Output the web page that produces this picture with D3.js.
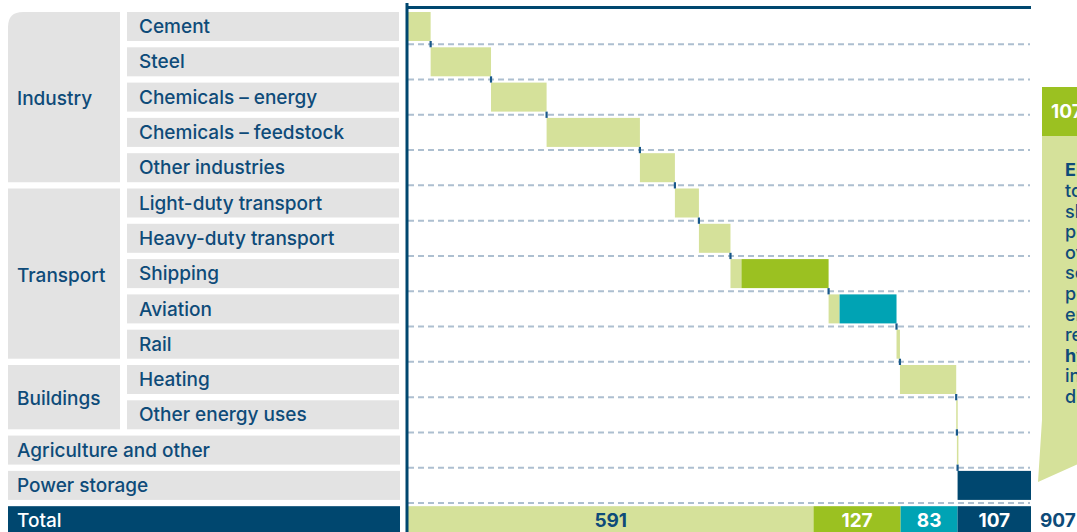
<!DOCTYPE html>
<html><head><meta charset="utf-8">
<script src="https://cdn.jsdelivr.net/npm/d3@7"></script>
<style>
html,body{margin:0;padding:0;background:#fff;overflow:hidden;}
svg{display:block;font-family:Inter, "Noto Sans", sans-serif;}
</style></head>
<body>
<svg id="chart" width="1077" height="532"></svg>
<script>
// ---- data ----
const categories = ["Cement","Steel","Chemicals – energy","Chemicals – feedstock","Other industries",
  "Light-duty transport","Heavy-duty transport","Shipping","Aviation","Rail",
  "Heating","Other energy uses","Agriculture and other","Power storage"];
const groupNames = ["Industry","Transport","Buildings"];
const groupFirst = [0,5,10];
const groupLast  = [4,9,11];
const seriesNames = ["lightGreen","green","teal","navy"];
const lightGreen = [33,88,81,136,51,35,46,16,16,5,82,1,1,0];
const green      = [0,0,0,0,0,0,0,127,0,0,0,0,0,0];
const teal       = [0,0,0,0,0,0,0,0,83,0,0,0,0,0];
const navy       = [0,0,0,0,0,0,0,0,0,0,0,0,0,107];
const totalLabel = "Total";
const grandTotalLabel = 907;
const calloutTitle = "107 EJ";
const calloutLines = ["Electricity","to","shift","power","over","seasons","peaks","energy","requires","hydrogen","in","demand"];
const calloutBold = [0,9];

// ---- styles ----
const colors = {lightGreen:"#d5e19a", green:"#9bc121", teal:"#00a3b4", navy:"#00476f"};
const textNavy = "#0e4b79";
const boxGray = "#e3e3e3";
const fs = 19;

const svg = d3.select("#chart");
const seriesData = {lightGreen, green, teal, navy};
const rows = categories.concat([totalLabel]);

const y = d3.scaleBand().domain(rows).range([12, 535.2]).paddingInner(0.178).paddingOuter(0);
const bw = y.bandwidth();
const step = y.step();
const gap = step - bw;
const totals = seriesNames.map(s => d3.sum(seriesData[s]));
const x = d3.scaleLinear().domain([0, d3.sum(totals)]).range([408, 1031]);

// ---- left label table ----
const labelG = svg.append("g");
const subX0 = 127, grpX0 = 8, grpX1 = 120;
const grouped = new Set();
groupNames.forEach((g,gi) => {
  for (let i = groupFirst[gi]; i <= groupLast[gi]; i++) grouped.add(i);
  const y0 = y(categories[groupFirst[gi]]);
  const y1 = y(categories[groupLast[gi]]) + bw;
  if (gi === 0) {
    const r = 15;
    labelG.append("path")
      .attr("d", `M${grpX0},${y1} L${grpX0},${y0+r} Q${grpX0},${y0} ${grpX0+r},${y0} L${grpX1},${y0} L${grpX1},${y1} Z`)
      .attr("fill", boxGray);
  } else {
    labelG.append("rect").attr("x", grpX0).attr("y", y0).attr("width", grpX1-grpX0).attr("height", y1-y0).attr("fill", boxGray);
  }
  labelG.append("text").attr("x", 17).attr("y", (y0+y1)/2 + 1.5).attr("dy","0.35em")
    .attr("font-size", fs).attr("font-weight", 500).attr("fill", textNavy).text(g);
});
categories.forEach((c,i) => {
  const inGroup = grouped.has(i);
  const x0 = inGroup ? subX0 : grpX0;
  labelG.append("rect").attr("x", x0).attr("y", y(c)).attr("width", 400 - x0 - (inGroup?1:0)).attr("height", bw).attr("fill", boxGray);
  labelG.append("text").attr("x", inGroup ? 139 : 17).attr("y", y(c) + bw/2).attr("dy","0.35em")
    .attr("font-size", fs).attr("font-weight", 500).attr("fill", textNavy).text(c);
});
labelG.append("rect").attr("x", grpX0).attr("y", y(totalLabel)).attr("width", 392).attr("height", bw).attr("fill", colors.navy);
labelG.append("text").attr("x", 17).attr("y", y(totalLabel) + bw/2).attr("dy","0.35em")
  .attr("font-size", fs).attr("font-weight", 500).attr("fill", "#fff").text(totalLabel);

// ---- gridlines ----
const grid = svg.append("g");
rows.slice(1).forEach(r => {
  grid.append("line").attr("x1", 408).attr("x2", 1030)
    .attr("y1", y(r) - gap/2).attr("y2", y(r) - gap/2)
    .attr("stroke", "#adbfd0").attr("stroke-width", 2).attr("stroke-dasharray", "6,4");
});

// ---- waterfall bars ----
const barsG = svg.append("g");
let cum = 0;
const ends = [];
categories.forEach((c,i) => {
  seriesNames.forEach(s => {
    const v = seriesData[s][i];
    if (v > 0) {
      barsG.append("rect").attr("x", x(cum)).attr("y", y(c))
        .attr("width", Math.max(1.5, x(cum+v) - x(cum))).attr("height", bw).attr("fill", colors[s]);
      cum += v;
    }
  });
  ends.push(cum);
});
// connectors
categories.slice(0,-1).forEach((c,i) => {
  barsG.append("line").attr("x1", x(ends[i])).attr("x2", x(ends[i]))
    .attr("y1", y(c) + bw).attr("y2", y(categories[i+1]))
    .attr("stroke", "#18588a").attr("stroke-width", 2.2);
});

// ---- total row ----
let tc = 0;
seriesNames.forEach((s,k) => {
  const v = totals[k];
  barsG.append("rect").attr("x", x(tc)).attr("y", y(totalLabel))
    .attr("width", x(tc+v) - x(tc)).attr("height", bw).attr("fill", colors[s]);
  barsG.append("text").attr("x", (x(tc)+x(tc+v))/2).attr("y", y(totalLabel)+bw/2).attr("dy","0.35em")
    .attr("text-anchor","middle").attr("font-size", fs).attr("font-weight", 700)
    .attr("fill", s === "lightGreen" ? textNavy : "#fff").text(v);
  tc += v;
});
svg.append("text").attr("x", 1040).attr("y", y(totalLabel)+bw/2).attr("dy","0.35em")
  .attr("font-size", fs).attr("font-weight", 700).attr("fill", textNavy).text(grandTotalLabel);

// ---- axes lines ----
svg.append("line").attr("x1", 407).attr("x2", 1031).attr("y1", 7.5).attr("y2", 7.5)
  .attr("stroke", colors.navy).attr("stroke-width", 3);
svg.append("line").attr("x1", 407).attr("x2", 407).attr("y1", 3).attr("y2", 532)
  .attr("stroke", colors.navy).attr("stroke-width", 3);

// ---- callout ----
const co = svg.append("g");
co.append("path").attr("d", "M1042,136 L1200,136 L1200,445 L1120,445 L1038,482 L1042,420 Z").attr("fill", colors.lightGreen);
co.append("rect").attr("x", 1042).attr("y", 87).attr("width", 160).attr("height", 49).attr("fill", colors.green);
co.append("text").attr("x", 1051).attr("y", 111.5).attr("dy","0.35em").attr("font-size", 19)
  .attr("font-weight", 700).attr("fill", "#fff").text(calloutTitle);
calloutLines.forEach((t,i) => {
  co.append("text").attr("x", 1065).attr("y", 170 + i*20.6).attr("dy","0.35em").attr("font-size", 18)
    .attr("font-weight", calloutBold.includes(i) ? 700 : 500).attr("fill", textNavy).text(t);
});
</script>
</body></html>
